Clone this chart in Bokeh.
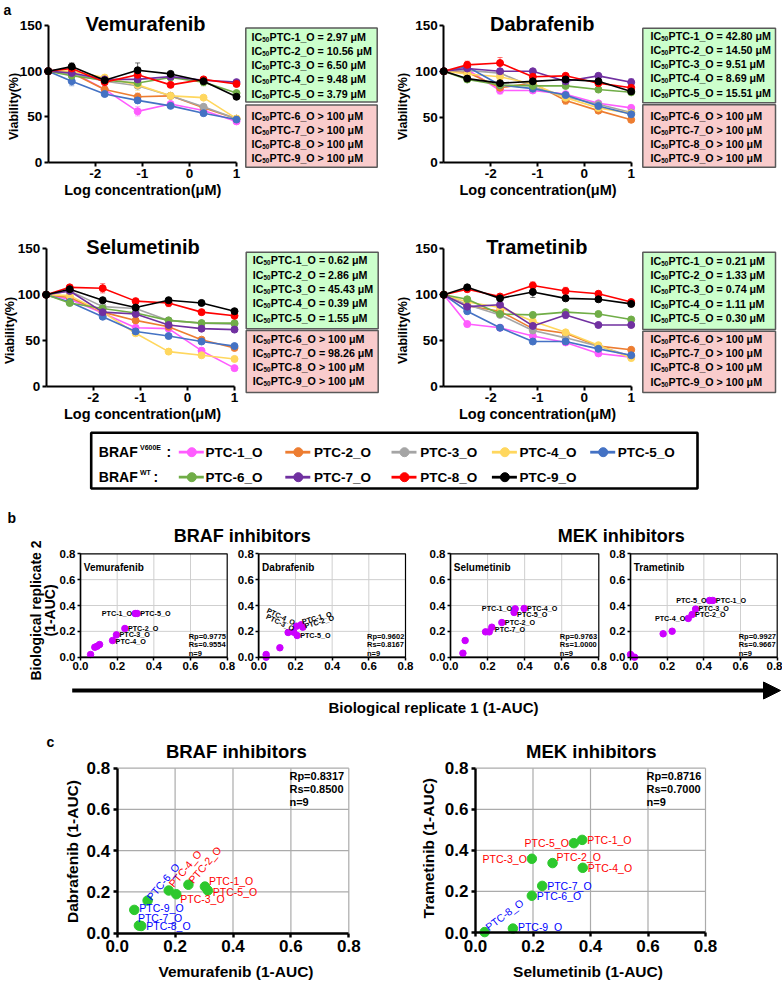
import math
from bokeh.plotting import figure
from bokeh.models import Range1d, LinearAxis, FixedTicker, PrintfTickFormatter, Arrow, NormalHead
from bokeh.core.properties import value
from bokeh.embed import file_html
from bokeh.resources import INLINE

FONT = "Liberation Sans"

# ======================= DATA =======================
# ---- panel a: dose response (viability %) ----
log_conc = [-3.0, -2.5, -1.8, -1.1, -0.4, 0.3, 1.0]
organoids = ["PTC-1_O", "PTC-2_O", "PTC-3_O", "PTC-4_O", "PTC-5_O",
             "PTC-6_O", "PTC-7_O", "PTC-8_O", "PTC-9_O"]
organoid_colors = ["#FF5CFF", "#ED7D31", "#A5A5A5", "#FFD75E", "#4472C4",
                   "#70AD47", "#7030A0", "#FF0000", "#000000"]

vem_viability = [
    [100, 99, 80, 56, 64, 57, 45],
    [100, 98, 80, 72, 73, 60, 48],
    [100, 97, 89, 84, 73, 61, 48],
    [100, 100, 93, 85, 73, 71, 48],
    [100, 89, 75, 68, 62, 54, 47],
    [100, 95, 90, 87, 93, 88, 76],
    [100, 98, 91, 91, 94, 90, 88],
    [100, 103, 88, 96, 85, 91, 86],
    [100, 105, 90, 101, 97, 89, 72],
]
dab_viability = [
    [100, 102, 79, 79, 75, 65, 60],
    [100, 99, 82, 87, 68, 57, 47],
    [100, 101, 98, 83, 72, 64, 55],
    [100, 97, 94, 86, 71, 60, 54],
    [100, 105, 85, 81, 74, 62, 53],
    [100, 91, 85, 84, 84, 80, 77],
    [100, 103, 100, 100, 89, 95, 88],
    [100, 107, 109, 94, 95, 87, 82],
    [100, 92, 87, 89, 91, 89, 78],
]
sel_viability = [
    [100, 95, 80, 64, 63, 39, 20],
    [100, 97, 81, 72, 65, 51, 42],
    [100, 104, 87, 85, 72, 69, 68],
    [100, 99, 81, 58, 38, 34, 30],
    [100, 92, 76, 60, 55, 49, 44],
    [100, 91, 85, 80, 72, 69, 69],
    [100, 104, 81, 79, 67, 63, 62],
    [100, 108, 107, 93, 91, 81, 77],
    [100, 106, 94, 86, 94, 91, 82],
]
tra_viability = [
    [100, 68, 64, 55, 48, 36, 32],
    [100, 88, 82, 63, 58, 44, 40],
    [100, 89, 78, 61, 53, 44, 33],
    [100, 92, 86, 71, 59, 45, 31],
    [100, 82, 64, 49, 49, 41, 34],
    [100, 95, 79, 78, 81, 79, 73],
    [100, 87, 89, 66, 78, 67, 67],
    [100, 106, 98, 110, 104, 101, 92],
    [100, 108, 96, 103, 96, 95, 90],
]
# visible error bars: (organoid index, dose index, +/- SD)
vem_errors = [(8, 1, 4), (8, 3, 8), (2, 2, 5), (0, 3, 5), (4, 1, 5), (5, 5, 4),
              (3, 3, 6), (0, 6, 2), (6, 6, 2), (1, 3, 4)]
dab_errors = [(7, 2, 6), (7, 1, 4), (0, 2, 4), (1, 4, 4), (1, 5, 3), (0, 6, 3),
              (6, 6, 4), (8, 4, 5)]
sel_errors = [(7, 2, 5), (7, 4, 4), (2, 2, 5), (4, 1, 4), (3, 4, 3), (0, 5, 3)]
tra_errors = [(7, 3, 4), (8, 3, 6), (7, 4, 4), (6, 4, 4), (3, 6, 3), (8, 6, 3), (0, 1, 3)]

vem_ic50 = ["= 2.97 μM", "= 10.56 μM", "= 6.50 μM", "= 9.48 μM", "= 3.79 μM",
            "> 100 μM", "> 100 μM", "> 100 μM", "> 100 μM"]
dab_ic50 = ["= 42.80 μM", "= 14.50 μM", "= 9.51 μM", "= 8.69 μM", "= 15.51 μM",
            "> 100 μM", "> 100 μM", "> 100 μM", "> 100 μM"]
sel_ic50 = ["= 0.62 μM", "= 2.86 μM", "= 45.43 μM", "= 0.39 μM", "= 1.55 μM",
            "> 100 μM", "= 98.26 μM", "> 100 μM", "> 100 μM"]
tra_ic50 = ["= 0.21 μM", "= 1.33 μM", "= 0.74 μM", "= 1.11 μM", "= 0.30 μM",
            "> 100 μM", "> 100 μM", "> 100 μM", "> 100 μM"]

# ---- panel b: replicate 1 vs replicate 2 (1-AUC) ----
b_vem_rep1 = [0.055, 0.078, 0.091, 0.104, 0.175, 0.196, 0.242, 0.298, 0.309]
b_vem_rep2 = [0.021, 0.077, 0.085, 0.098, 0.129, 0.173, 0.222, 0.338, 0.338]
b_vem_names = ["", "", "", "", "PTC-4_O", "PTC-3_O", "PTC-2_O", "PTC-1_O", "PTC-5_O"]
b_vem_stats = ["Rp=0.9775", "Rs=0.9554", "n=9"]

b_dab_rep1 = [0.040, 0.040, 0.115, 0.160, 0.191, 0.206, 0.231, 0.240, 0.209]
b_dab_rep2 = [0.000, 0.021, 0.073, 0.191, 0.193, 0.240, 0.251, 0.232, 0.168]
b_dab_names = ["", "", "", "", "PTC-3_O", "PTC-4_O", "PTC-1_O", "PTC-2_O", "PTC-5_O"]
b_dab_stats = ["Rp=0.9602", "Rs=0.8167", "n=9"]

b_sel_rep1 = [0.067, 0.079, 0.189, 0.209, 0.223, 0.277, 0.343, 0.349, 0.397]
b_sel_rep2 = [0.031, 0.129, 0.196, 0.196, 0.232, 0.268, 0.346, 0.374, 0.377]
b_sel_names = ["", "", "", "", "PTC-7_O", "PTC-2_O", "PTC-5_O", "PTC-1_O", "PTC-4_O"]
b_sel_stats = ["Rp=0.9763", "Rs=1.0000", "n=9"]

b_tra_rep1 = [0.000, 0.022, 0.178, 0.227, 0.315, 0.336, 0.355, 0.431, 0.449]
b_tra_rep2 = [0.021, 0.000, 0.181, 0.201, 0.300, 0.330, 0.372, 0.439, 0.439]
b_tra_names = ["", "", "", "", "PTC-4_O", "PTC-2_O", "PTC-3_O", "PTC-5_O", "PTC-1_O"]
b_tra_stats = ["Rp=0.9927", "Rs=0.9667", "n=9"]

# ---- panel c: drug vs drug (1-AUC), order PTC-1..PTC-9 ----
c_vem = [0.303, 0.246, 0.204, 0.178, 0.313, 0.105, 0.075, 0.083, 0.059]
c_dab = [0.226, 0.235, 0.189, 0.207, 0.207, 0.158, 0.037, 0.035, 0.113]
c_sel = [0.371, 0.268, 0.196, 0.373, 0.342, 0.196, 0.232, 0.032, 0.130]
c_tra = [0.451, 0.338, 0.359, 0.315, 0.435, 0.179, 0.227, 0.002, 0.019]
c_braf_stats = ["Rp=0.8317", "Rs=0.8500", "n=9"]
c_mek_stats = ["Rp=0.8716", "Rs=0.7000", "n=9"]

auc_ticks = [0.0, 0.2, 0.4, 0.6, 0.8]

# ======================= FIGURE =======================
W, H = 782, 982
p = figure(width=W, height=H, x_range=Range1d(0, W), y_range=Range1d(H, 0),
           output_backend="svg", toolbar_location=None, title=None,
           x_axis_location=None, y_axis_location=None, min_border=0)
p.outline_line_color = None
p.background_fill_color = "white"
p.border_fill_color = "white"
p.xgrid.visible = False
p.ygrid.visible = False


def space(name, dx0, px0, dx1, px1, dy0, py0, dy1, py1):
    """Scales for a sub-plot: data dx0 -> page pixel px0, etc. (page pixels, y down)."""
    sx = (px1 - px0) / (dx1 - dx0)
    sy = (py0 - py1) / (dy1 - dy0)
    p.extra_x_ranges[name] = Range1d(dx0 - px0 / sx, dx0 + (W - px0) / sx)
    p.extra_y_ranges[name] = Range1d(dy0 - (H - py0) / sy, dy0 + py0 / sy)


def txt(xs, ys, texts, size, rn=None, align="left", baseline="middle", bold=True,
        color="black", angle=0.0, xo=0, yo=0):
    kw = dict(text_font=value(FONT), text_font_size=f"{size}px",
              text_font_style="bold" if bold else "normal",
              text_align=align, text_baseline=baseline, text_color=color)
    if rn is not None:
        kw["x_range_name"] = rn
        kw["y_range_name"] = rn
    p.text(x=list(xs), y=list(ys), text=list(texts), angle=angle,
           x_offset=xo, y_offset=yo, **kw)


def axes(name, xfix, yfix, xb, yb, xt, yt, fs, lw, tick_out, standoff, fmt):
    common = dict(x_range_name=name, y_range_name=name, axis_line_width=lw,
                  axis_line_color="black", major_tick_line_width=lw,
                  major_tick_line_color="black", major_tick_out=tick_out,
                  major_tick_in=0, minor_tick_line_color=None,
                  major_label_text_font=FONT, major_label_text_font_style="bold",
                  major_label_text_font_size=f"{fs}px",
                  major_label_standoff=standoff, major_label_text_color="black")
    xa = LinearAxis(fixed_location=yfix, bounds=xb, ticker=FixedTicker(ticks=xt),
                    formatter=PrintfTickFormatter(format=fmt), **common)
    ya = LinearAxis(fixed_location=xfix, bounds=yb, ticker=FixedTicker(ticks=yt),
                    formatter=PrintfTickFormatter(format=fmt), **common)
    p.add_layout(xa, "below")
    p.add_layout(ya, "left")


# ---------------- panel a ----------------
txt([3], [1], ["a"], 14, baseline="top")

dose_panels = [
    # name, data, errors, ic50, px(-3), px(1), py(0), py(150), title, title_x, xlabel(x,y),
    # ylabel(x,y), box: left, right, green top/bottom, red top/bottom, text x,
    # first line y (green/red), line steps
    ("vem", vem_viability, vem_errors, vem_ic50, 47.7, 236.0, 162.0, 25.0, "Vemurafenib", 145.0,
     (142.3, 189.0), (13.0, 106.0),
     (245.3, 376.7, 27.5, 101.5, 104.5, 166.7, 251.0, 36.2, 115.5, 14.2, 13.9)),
    ("dab", dab_viability, dab_errors, dab_ic50, 443.3, 630.7, 162.3, 25.0, "Dabrafenib", 541.7,
     (537.5, 189.5), (402.5, 106.0),
     (642.3, 775.0, 27.7, 102.3, 104.3, 166.7, 650.0, 35.0, 115.3, 14.3, 14.0)),
    ("sel", sel_viability, sel_errors, sel_ic50, 45.7, 234.0, 386.0, 248.3, "Selumetinib", 142.5,
     (142.0, 413.0), (9.5, 330.0),
     (245.7, 377.7, 251.7, 328.3, 330.0, 392.0, 252.3, 259.7, 338.0, 14.4, 14.3)),
    ("tra", tra_viability, tra_errors, tra_ic50, 443.3, 630.7, 386.0, 248.3, "Trametinib", 536.3,
     (537.0, 413.0), (402.5, 330.0),
     (642.3, 775.0, 251.7, 329.0, 330.7, 392.0, 650.0, 260.0, 338.3, 14.4, 14.3)),
]

for (name, data, errs, ic50, px0, px1, py0, py150, title, tx, xl, yl, box) in dose_panels:
    space(name, -3, px0, 1, px1, 0, py0, 150, py150)
    # error bars (drawn first, faint)
    ex = [log_conc[j] for (_, j, _) in errs]
    elo = [data[i][j] - e for (i, j, e) in errs]
    ehi = [data[i][j] + e for (i, j, e) in errs]
    ecol = [organoid_colors[i] for (i, _, _) in errs]
    p.segment(x0=ex, y0=elo, x1=ex, y1=ehi, line_color=ecol, line_alpha=0.55, line_width=1,
              x_range_name=name, y_range_name=name)
    p.scatter(ex + ex, elo + ehi, marker="dash", size=5, line_color=ecol + ecol, line_alpha=0.55,
              line_width=1, x_range_name=name, y_range_name=name)
    for i in range(9):
        p.line(log_conc, data[i], line_color=organoid_colors[i], line_width=1.6,
               x_range_name=name, y_range_name=name)
        p.scatter(log_conc, data[i], size=7, fill_color=organoid_colors[i],
                  line_color=organoid_colors[i], x_range_name=name, y_range_name=name)
    axes(name, -3, 0, (-3, 1), (0, 150), [-2, -1, 0, 1], [0, 50, 100, 150], 13.5, 2, 4, 2, "%d")
    txt([tx], [py150 - 1.5], [title], 20, align="center", baseline="alphabetic")
    txt([xl[0]], [xl[1]], ["Log concentration(μM)"], 14.5, align="center")
    txt([yl[0]], [yl[1]], ["Viability(%)"], 12.5, align="center", angle=math.pi / 2)
    # IC50 boxes
    bl, br, gt, gb, rt, rb, bx, gy0, ry0, gstep, rstep = box
    p.quad(left=[bl, bl], right=[br, br], top=[gt, rt], bottom=[gb, rb],
           fill_color=["#CCFFCC", "#F9CCCC"], line_color="#595959", line_width=1.5)
    ys = [gy0 + k * gstep for k in range(5)] + [ry0 + k * rstep for k in range(4)]
    txt([bx] * 9, ys, ["IC"] * 9, 10.7)
    txt([bx] * 9, ys, ["50"] * 9, 6.3, xo=10.8, yo=2.5)
    txt([bx] * 9, ys, [f"{organoids[i]} {ic50[i]}" for i in range(9)], 10.7, xo=18.0)

# ---------------- legend ----------------
p.quad(left=[90.7], right=[697.0], top=[432.3], bottom=[488.0], fill_color=None,
       line_color="black", line_width=2.6)
leg_rows = [451.7, 476.7]
leg_line_x = [178.3, 284.8, 391.0, 491.4, 589.7]
leg_text_x = [205.0, 313.5, 419.8, 519.0, 617.3]
txt([98.3, 98.3], leg_rows, ["BRAF", "BRAF"], 14)
txt([139.5], [leg_rows[0] - 4.5], ["V600E"], 7)
txt([139.5], [leg_rows[1] - 4.5], ["WT"], 7)
txt([166.0, 153.0], leg_rows, [":", ":"], 14)
for i in range(9):
    r = 0 if i < 5 else 1
    c = i if i < 5 else i - 5
    y = leg_rows[r]
    p.line([leg_line_x[c], leg_line_x[c] + 25], [y, y], line_color=organoid_colors[i], line_width=2.8)
    p.scatter([leg_line_x[c] + 13], [y], size=9, fill_color=organoid_colors[i],
              line_color=organoid_colors[i])
    txt([leg_text_x[c]], [y], [organoids[i]], 13.5)

# ---------------- panel b ----------------
txt([7], [517.5], ["b"], 14)
txt([241.7], [535.0], ["BRAF inhibitors"], 18, align="center", baseline="alphabetic")
txt([620.8], [535.0], ["MEK inhibitors"], 18, align="center", baseline="alphabetic")
txt([35.0], [610.0], ["Biological replicate 2"], 14, align="center", angle=math.pi / 2)
txt([49.5], [610.0], ["(1-AUC)"], 14, align="center", angle=math.pi / 2)
p.add_layout(Arrow(end=NormalHead(size=17, fill_color="black", line_color="black"),
                   x_start=71.7, y_start=690.0, x_end=780.0, y_end=690.0,
                   line_width=4, line_color="black"))
txt([433.0], [707.0], ["Biological replicate 1 (1-AUC)"], 15, align="center")

b_panels = [
    ("bvem", 80.0, 226.7, "Vemurafenib", b_vem_rep1, b_vem_rep2, b_vem_names, b_vem_stats,
     {"PTC-4_O": ("left", 3, 1, 0), "PTC-3_O": ("left", 3, 0, 0), "PTC-2_O": ("left", 3, 0, 0),
      "PTC-1_O": ("right", -3, 0, 0), "PTC-5_O": ("left", 3, 0, 0)}),
    ("bdab", 258.3, 405.0, "Dabrafenib", b_dab_rep1, b_dab_rep2, b_dab_names, b_dab_stats,
     {"PTC-3_O": ("right", 0, -3, -0.45), "PTC-4_O": ("right", -2, -3, -0.45),
      "PTC-1_O": ("left", 1, -3, 0.26), "PTC-2_O": ("left", 2, -1, 0.29),
      "PTC-5_O": ("left", 3, 0, 0)}),
    ("bsel", 450.0, 598.3, "Selumetinib", b_sel_rep1, b_sel_rep2, b_sel_names, b_sel_stats,
     {"PTC-7_O": ("left", 3, 2, 0), "PTC-2_O": ("left", 3, 0, 0), "PTC-5_O": ("left", 3, 2, 0),
      "PTC-1_O": ("right", -3, 0, 0), "PTC-4_O": ("left", 3, 0, 0)}),
    ("btra", 630.0, 776.7, "Trametinib", b_tra_rep1, b_tra_rep2, b_tra_names, b_tra_stats,
     {"PTC-4_O": ("right", -3, 0, 0), "PTC-2_O": ("left", 3, 0, 0), "PTC-3_O": ("left", 3, -1, 0),
      "PTC-5_O": ("right", -3, 0, 0), "PTC-1_O": ("left", 3, 0, 0)}),
]
for (name, px0, px1, drug, r1, r2, names, stats, lstyle) in b_panels:
    space(name, 0, px0, 0.8, px1, 0, 656.7, 0.8, 553.3)
    for v in [0.2, 0.4, 0.6]:
        p.segment(x0=[v, 0], y0=[0, v], x1=[v, 0.8], y1=[0.8, v], line_color="#CFCFCF",
                  line_width=1, x_range_name=name, y_range_name=name)
    p.quad(left=[0], right=[0.8], bottom=[0], top=[0.8], fill_color=None, line_color="black",
           line_width=1.2, x_range_name=name, y_range_name=name)
    p.scatter(r1, r2, size=6.5, fill_color="#CC00FF", line_color="#CC00FF",
              x_range_name=name, y_range_name=name)
    axes(name, 0, 0, (0, 0.8), (0, 0.8), auc_ticks, auc_ticks, 11.5, 1.5, 3, 2, "%.1f")
    txt([0.018], [0.697], [drug], 10, rn=name)
    txt([0.59] * 3, [0.163, 0.096, 0.028], stats, 7.5, rn=name)
    for i, nm in enumerate(names):
        if not nm:
            continue
        al, xo, yo, ang = lstyle[nm]
        txt([r1[i]], [r2[i]], [nm], 7.2, rn=name, align=al, xo=xo, yo=yo, angle=ang)

# ---------------- panel c ----------------
txt([50.0], [741.0], ["c"], 14, align="center")
c_panels = [
    ("cbraf", 116.7, 348.3, 932.7, "BRAF inhibitors", 235.8, c_vem, c_dab,
     "Vemurafenib (1-AUC)", (235.5, 971.0), "Dabrafenib (1-AUC)", (71.7, 851.0), c_braf_stats,
     [("left", 4, -6, 0), ("left", 2, -3, 0.87), ("left", 4, 5, 0), ("left", 2, -5, 0.87),
      ("left", 5, 1, 0), ("left", 1, -2, 0.87), ("left", -1, -8, 0), ("left", 5, 0, 0),
      ("left", 5, -2, 0)]),
    ("cmek", 475.0, 705.0, 932.0, "MEK inhibitors", 590.8, c_sel, c_tra,
     "Selumetinib (1-AUC)", (587.5, 971.0), "Trametinib (1-AUC)", (428.3, 847.7), c_mek_stats,
     [("left", 5, 0, 0), ("left", 4, -6, 0), ("right", -5, 0, 0), ("left", 5, 0, 0),
      ("right", -5, 0, 0), ("left", 5, 0, 0), ("left", 5, 0, 0), ("left", 2, -4, 0.65),
      ("left", 5, -2, 0)]),
]
for (name, px0, px1, py0, title, tx, xs, ys, xlab, xlp, ylab, ylp, stats, lstyle) in c_panels:
    space(name, 0, px0, 0.8, px1, 0, py0, 0.8, 767.7)
    for v in [0.2, 0.4, 0.6, 0.8]:
        p.segment(x0=[v, 0], y0=[0, v], x1=[v, 0.8], y1=[0.8, v], line_color="#ABABAB",
                  line_width=1.2, x_range_name=name, y_range_name=name)
    axes(name, 0, 0, (0, 0.8), (0, 0.8), auc_ticks, auc_ticks, 17, 2.4, 4, 3, "%.1f")
    p.scatter(xs, ys, size=9.5, fill_color="#2DC82D", line_color="#2DC82D",
              x_range_name=name, y_range_name=name)
    txt([tx], [751.0], [title], 18.5, align="center", baseline="alphabetic")
    txt([xlp[0]], [xlp[1]], [xlab], 15.5, align="center")
    txt([ylp[0]], [ylp[1]], [ylab], 15.5, align="center", angle=math.pi / 2)
    txt([0.595] * 3, [0.760, 0.697, 0.634], stats, 11, rn=name)
    for i in range(9):
        al, xo, yo, ang = lstyle[i]
        col = "#FF0000" if i < 5 else "#0000FF"
        txt([xs[i]], [ys[i]], [organoids[i]], 10.5, rn=name, align=al, xo=xo, yo=yo,
            angle=ang, color=col, bold=False)

open("out.html", "w").write(file_html(p, INLINE))
